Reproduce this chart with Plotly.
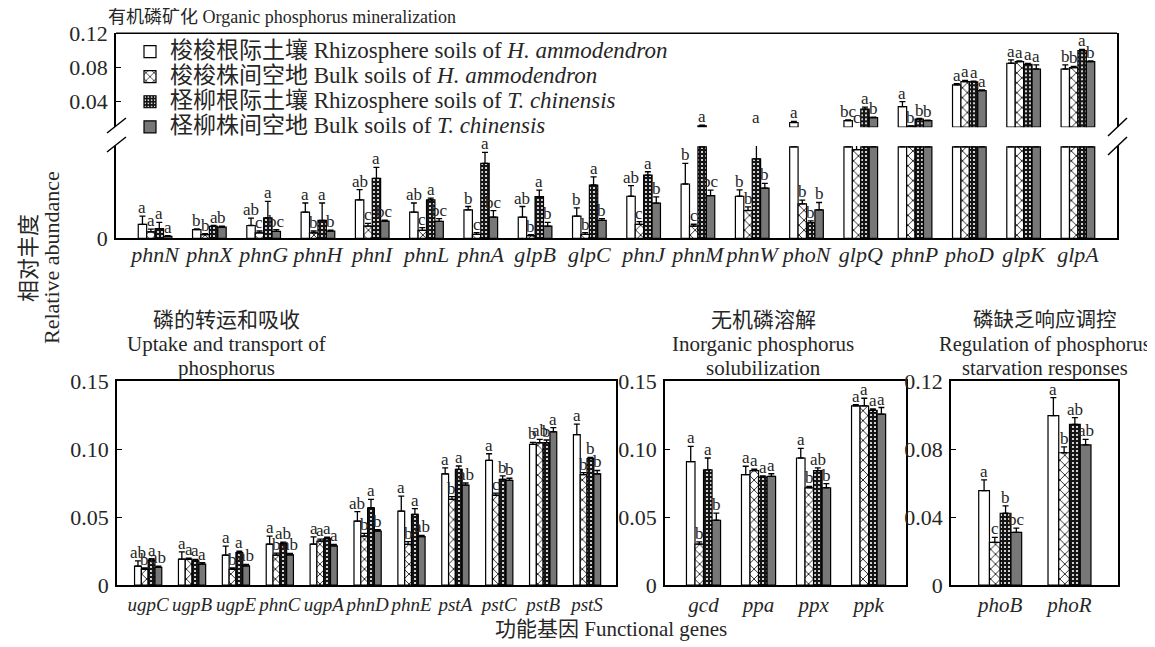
import plotly.graph_objects as go
import numpy as np

# ---------------- data ----------------
series_names = [
    "梭梭根际土壤 Rhizosphere soils of <i>H. ammodendron</i>",
    "梭梭株间空地 Bulk soils of <i>H. ammodendron</i>",
    "柽柳根际土壤 Rhizosphere soils of <i>T. chinensis</i>",
    "柽柳株间空地 Bulk soils of <i>T. chinensis</i>",
]

# Organic phosphorus mineralization
genes_org = ["phnN", "phnX", "phnG", "phnH", "phnI", "phnL", "phnA", "glpB", "glpC",
             "phnJ", "phnM", "phnW", "phoN", "glpQ", "phnP", "phoD", "glpK", "glpA"]
org_rhH = [0.00152, 0.00094, 0.0014, 0.00286, 0.0042, 0.00286, 0.00312, 0.00232, 0.00243,
           0.0046, 0.00594, 0.0046, 0.0155, 0.0178, 0.0342, 0.0595, 0.0849, 0.0782]
org_rhH_err = [0.0009, 0.0001, 0.0008, 0.001, 0.00113, 0.001, 0.00036, 0.00116, 0.0009,
               0.00116, 0.00225, 0.0007, 0.0012, 0.0008, 0.0058, 0.0015, 0.0039, 0.0047]
org_rhH_sig = ["a", "b", "ab", "a", "ab", "ab", "b", "ab", "b", "ab", "b", "b", "a", "bc", "a", "a", "a", "b"]
org_buH = [0.0007, 0.0004, 0.0006, 0.0006, 0.00134, 0.00087, 0.00043, 0.0003, 0.00043,
           0.00152, 0.00134, 0.00304, 0.00377, 0.0097, 0.0112, 0.0634, 0.0868, 0.0798]
org_buH_err = [0.0003, 0.0001, 0.0002, 0.0002, 0.0003, 0.0003, 0.0002, 0.0001, 0.0002,
               0.0003, 0.0002, 0.0004, 0.0004, 0.0014, 0.0003, 0.0014, 0.001, 0.0015]
org_buH_sig = ["a", "b", "c", "b", "c", "c", "c", "b", "b", "c", "c", "b", "b", "c", "b", "a", "a", "b"]
org_rhT = [0.00105, 0.0013, 0.00225, 0.00196, 0.00656, 0.0042, 0.0082, 0.00457, 0.00583,
           0.00692, 0.0115, 0.0087, 0.0017, 0.0311, 0.0194, 0.063, 0.0837, 0.0997]
org_rhT_err = [0.0007, 0.0001, 0.0018, 0.0019, 0.0012, 0.0002, 0.0012, 0.0007, 0.0009,
               0.00036, 0.0008, 0.0026, 0.0002, 0.0024, 0.0008, 0.001, 0.001, 0.0015]
org_rhT_sig = ["a", "a", "a", "a", "a", "a", "a", "a", "a", "a", "a", "a", "b", "a", "b", "a", "a", "a"]
org_buT = [0.0002, 0.00123, 0.00076, 0.0008, 0.00188, 0.00185, 0.00232, 0.00134, 0.00196,
           0.00384, 0.00467, 0.0055, 0.00312, 0.0213, 0.0178, 0.0529, 0.0782, 0.0868]
org_buT_err = [0.0001, 0.0001, 0.0002, 0.0001, 0.0001, 0.0003, 0.0007, 0.0004, 0.0002,
               0.0007, 0.0006, 0.0005, 0.0008, 0.0005, 0.0004, 0.0008, 0.0047, 0.001]
org_buT_sig = ["a", "b", "bc", "b", "bc", "bc", "bc", "b", "b", "b", "bc", "b", "b", "b", "b", "a", "a", "b"]

# Uptake and transport of phosphorus
genes_upt = ["ugpC", "ugpB", "ugpE", "phnC", "ugpA", "phnD", "phnE", "pstA", "pstC", "pstB", "pstS"]
upt_rhH = [0.0139, 0.019, 0.022, 0.030, 0.030, 0.047, 0.0543, 0.0817, 0.0916, 0.1034, 0.1105]
upt_rhH_err = [0.0039, 0.0054, 0.0066, 0.0059, 0.0054, 0.0069, 0.011, 0.0044, 0.0049, 0.0015, 0.0078]
upt_rhH_sig = ["ab", "a", "a", "a", "a", "ab", "a", "a", "a", "b", "a"]
upt_buH = [0.0115, 0.0188, 0.0115, 0.022, 0.0322, 0.036, 0.0299, 0.063, 0.066, 0.1046, 0.0811]
upt_buH_err = [0.001, 0.001, 0.001, 0.0015, 0.0015, 0.002, 0.002, 0.002, 0.0015, 0.0025, 0.0015]
upt_buH_sig = ["b", "a", "b", "b", "a", "b", "b", "b", "c", "ab", "b"]
upt_rhT = [0.0183, 0.0178, 0.0239, 0.0305, 0.0341, 0.0568, 0.052, 0.085, 0.0777, 0.1046, 0.0929]
upt_rhT_err = [0.001, 0.001, 0.001, 0.001, 0.001, 0.0061, 0.0042, 0.0025, 0.0025, 0.002, 0.001]
upt_rhT_sig = ["a", "a", "a", "ab", "a", "a", "a", "a", "b", "b", "b"]
upt_buT = [0.0129, 0.0154, 0.0141, 0.0222, 0.0288, 0.0397, 0.0355, 0.0735, 0.077, 0.1127, 0.0817]
upt_buT_err = [0.001, 0.001, 0.001, 0.001, 0.001, 0.001, 0.001, 0.0015, 0.0015, 0.003, 0.0025]
upt_buT_sig = ["ab", "a", "ab", "ab", "a", "b", "ab", "ab", "b", "a", "b"]

# Inorganic phosphorus solubilization
genes_ino = ["gcd", "ppa", "ppx", "ppk"]
ino_rhH = [0.0907, 0.0812, 0.0934, 0.1317]
ino_rhH_err = [0.0112, 0.0061, 0.0071, 0.001]
ino_rhH_sig = ["a", "a", "a", "a"]
ino_buH = [0.030, 0.0841, 0.0715, 0.1317]
ino_buH_err = [0.0017, 0.001, 0.001, 0.0056]
ino_buH_sig = ["b", "a", "b", "a"]
ino_rhT = [0.0846, 0.0793, 0.0841, 0.1285]
ino_rhT_err = [0.0088, 0.001, 0.002, 0.001]
ino_rhT_sig = ["a", "a", "ab", "a"]
ino_buT = [0.0476, 0.0798, 0.0715, 0.1256]
ino_buT_err = [0.0053, 0.002, 0.003, 0.0049]
ino_buT_sig = ["b", "a", "b", "a"]

# Regulation of phosphorus starvation responses
genes_reg = ["phoB", "phoR"]
reg_rhH = [0.0555, 0.0996]
reg_rhH_err = [0.0063, 0.0106]
reg_rhH_sig = ["a", "a"]
reg_buH = [0.0251, 0.0778]
reg_buH_err = [0.0029, 0.0035]
reg_buH_sig = ["c", "b"]
reg_rhT = [0.0422, 0.0945]
reg_rhT_err = [0.0043, 0.0039]
reg_rhT_sig = ["b", "ab"]
reg_buT = [0.031, 0.0824]
reg_buT_err = [0.0024, 0.0033]
reg_buT_sig = ["bc", "ab"]

# ---------------- styling ----------------
OFF_Y = 8                        # page top margin of the html page
W, H = 1155, 647 - OFF_Y
FONT = "Liberation Serif, Noto Sans CJK SC, serif"
TXT = "#262626"
BARGAP = 0.38
BREAK = 0.01  # value where the organic panel axis is broken


def px_x(x):
    return x / W


def px_y(y):
    return 1 - (y - OFF_Y) / H


marker_styles = [
    dict(color="white", pattern=dict(shape="")),
    dict(color="white", pattern=dict(shape="x", fgcolor="black", bgcolor="white", size=7, solidity=0.22)),
    dict(color="#151515", pattern=dict(shape=".", fgcolor="white", bgcolor="#151515", size=4, solidity=0.22)),
    dict(color="#777777", pattern=dict(shape="")),
]

fig = go.Figure()


def add_bars(xref, yref, genes, vals, errs, showlegend, base=None):
    x = np.arange(len(genes))
    for k in range(4):
        st = marker_styles[k]
        fig.add_trace(go.Bar(
            x=x, y=vals[k], base=base,
            name=f'<span style="font-size:23px">{series_names[k]}</span>',
            xaxis=xref, yaxis=yref,
            marker=dict(color=st["color"], line=dict(color="black", width=1.2), pattern=st["pattern"]),
            error_y=dict(type="data", array=errs[k], arrayminus=[0] * len(genes), symmetric=False,
                         color="black", thickness=1.3, width=3),
            showlegend=showlegend, legendgroup=str(k), hoverinfo="skip",
        ))


def add_letters(xref, yref_fn, genes, vals, errs, sigs):
    w = (1 - BARGAP) / 4
    for k in range(4):
        for i in range(len(genes)):
            top = vals[k][i] + errs[k][i]
            fig.add_annotation(x=i + (k - 1.5) * w, y=top, xref=xref, yref=yref_fn(top),
                               text=sigs[k][i], showarrow=False, yanchor="bottom",
                               yshift=-3, font=dict(size=17, family=FONT, color=TXT))


org_vals = [org_rhH, org_buH, org_rhT, org_buT]
org_errs = [org_rhH_err, org_buH_err, org_rhT_err, org_buT_err]
org_sigs = [org_rhH_sig, org_buH_sig, org_rhT_sig, org_buT_sig]
# broken axis: lower segment shows 0..BREAK, upper segment shows the part above BREAK
low_vals = [[min(v, BREAK) for v in s] for s in org_vals]
low_errs = [[e if v < BREAK else 0 for v, e in zip(s, es)] for s, es in zip(org_vals, org_errs)]
up_vals = [[(v - BREAK) if v > BREAK else None for v in s] for s in org_vals]
add_bars("x", "y", genes_org, low_vals, low_errs, True)
add_bars("x", "y2", genes_org, up_vals, org_errs, False, base=BREAK)
add_letters("x", lambda t: "y2" if t > BREAK else "y", genes_org, org_vals, org_errs, org_sigs)

upt_vals = [upt_rhH, upt_buH, upt_rhT, upt_buT]
upt_errs = [upt_rhH_err, upt_buH_err, upt_rhT_err, upt_buT_err]
upt_sigs = [upt_rhH_sig, upt_buH_sig, upt_rhT_sig, upt_buT_sig]
add_bars("x2", "y3", genes_upt, upt_vals, upt_errs, False)
add_letters("x2", lambda t: "y3", genes_upt, upt_vals, upt_errs, upt_sigs)

ino_vals = [ino_rhH, ino_buH, ino_rhT, ino_buT]
ino_errs = [ino_rhH_err, ino_buH_err, ino_rhT_err, ino_buT_err]
ino_sigs = [ino_rhH_sig, ino_buH_sig, ino_rhT_sig, ino_buT_sig]
add_bars("x3", "y4", genes_ino, ino_vals, ino_errs, False)
add_letters("x3", lambda t: "y4", genes_ino, ino_vals, ino_errs, ino_sigs)

reg_vals = [reg_rhH, reg_buH, reg_rhT, reg_buT]
reg_errs = [reg_rhH_err, reg_buH_err, reg_rhT_err, reg_buT_err]
reg_sigs = [reg_rhH_sig, reg_buH_sig, reg_rhT_sig, reg_buT_sig]
add_bars("x4", "y5", genes_reg, reg_vals, reg_errs, False)
add_letters("x4", lambda t: "y5", genes_reg, reg_vals, reg_errs, reg_sigs)

# ---------------- axes ----------------
common_line = dict(showline=True, linecolor="black", linewidth=1.5, showgrid=False, zeroline=False,
                   automargin=False)


def tf(size):
    return dict(size=size, family=FONT, color=TXT)


def xaxis(domain, genes, rng, anchor, mirror, size, standoff):
    return dict(domain=domain, range=rng, tickvals=list(range(len(genes))),
                ticktext=[f"<i>{g}</i>" for g in genes], ticks="", tickangle=0,
                tickfont=tf(size), ticklabelstandoff=standoff, anchor=anchor, mirror=mirror,
                **common_line)


def yaxis(domain, rng, tv, tt, anchor):
    return dict(domain=domain, range=rng, tickvals=tv, ticktext=tt, ticks="inside", ticklen=5,
                tickwidth=1.3, tickcolor="black", tickfont=tf(22), ticklabelstandoff=2,
                anchor=anchor, mirror=True, **common_line)


yb = [px_y(585), px_y(381)]
fig.update_layout(
    xaxis=xaxis([px_x(108), px_x(1109)], genes_org, [-0.72, 17.72], "y", False, 22, -4),
    yaxis=yaxis([px_y(238.3), px_y(146)], [0, BREAK * 1.01], [0], ["0"], "x"),
    yaxis2=yaxis([px_y(127.3), px_y(33.3)], [BREAK * 0.99, 0.12], [0.04, 0.08, 0.12],
                 ["0.04", "0.08", "0.12"], "x"),
    xaxis2=xaxis([px_x(109), px_x(608)], genes_upt, [-0.71, 10.66], "y3", True, 19, 1),
    yaxis3=yaxis(yb, [0, 0.15], [0, 0.05, 0.10, 0.15], ["0", "0.05", "0.10", "0.15"], "x2"),
    xaxis3=xaxis([px_x(657), px_x(898)], genes_ino, [-0.7, 3.68], "y4", True, 21, 0),
    yaxis4=yaxis(yb, [0, 0.15], [0, 0.05, 0.10, 0.15], ["0", "0.05", "0.10", "0.15"], "x3"),
    xaxis4=xaxis([px_x(943), px_x(1110)], genes_reg, [-0.71, 1.70], "y5", True, 21, 0),
    yaxis5=yaxis(yb, [0, 0.12], [0, 0.04, 0.08, 0.12], ["0", "0.04", "0.08", "0.12"], "x4"),
)

# ---------------- frame pieces, break marks ----------------
shapes = [
    dict(type="line", xref="paper", yref="paper", x0=px_x(108), x1=px_x(1109),
         y0=px_y(33.3), y1=px_y(33.3), line=dict(color="black", width=1.5)),
]
for (x0, y0, x1, y1) in [(99, 133, 118, 118), (99, 152, 118, 137),
                         (1100, 136, 1119, 118), (1100, 155, 1119, 137)]:
    shapes.append(dict(type="line", xref="paper", yref="paper", x0=px_x(x0), y0=px_y(y0),
                       x1=px_x(x1), y1=px_y(y1), line=dict(color="black", width=1.5)))


# ---------------- titles ----------------
def txt(text, x, y, size, xanchor="center", angle=0):
    fig.add_annotation(text=text, x=px_x(x), y=px_y(y), xref="paper", yref="paper",
                       showarrow=False, xanchor=xanchor, yanchor="middle", textangle=angle,
                       font=dict(size=size, family=FONT, color=TXT))


txt("有机磷矿化 Organic phosphorus mineralization", 98, 17, 18, xanchor="left")
for i, line in enumerate(["磷的转运和吸收", "Uptake and transport of", "phosphorus"]):
    txt(line, 218, 320 + 24 * i, 21)
for i, line in enumerate(["无机磷溶解", "Inorganic phosphorus", "solubilization"]):
    txt(line, 755, 320 + 24 * i, 21)
for i, line in enumerate(["磷缺乏响应调控", "Regulation of phosphorus", "starvation responses"]):
    txt(line, 1037, 320 + 24 * i, 20.5)
txt("功能基因 Functional genes", 603, 629, 21)
txt("相对丰度", 20, 258, 22, angle=-90)
txt("Relative abundance", 43, 258, 22, angle=-90)

fig.update_layout(
    template="none",
    width=W, height=H,
    margin=dict(l=0, r=0, t=0, b=0),
    paper_bgcolor="white", plot_bgcolor="white",
    barmode="group", bargap=BARGAP, bargroupgap=0,
    font=dict(family=FONT, color=TXT),
    shapes=shapes,
    legend=dict(x=px_x(122), y=px_y(34), xanchor="left", yanchor="top", bgcolor="rgba(0,0,0,0)",
                font=dict(size=17, family=FONT, color=TXT), tracegroupgap=0, traceorder="normal",
                itemwidth=30),
    showlegend=True,
)

fig.write_html("out.html")
